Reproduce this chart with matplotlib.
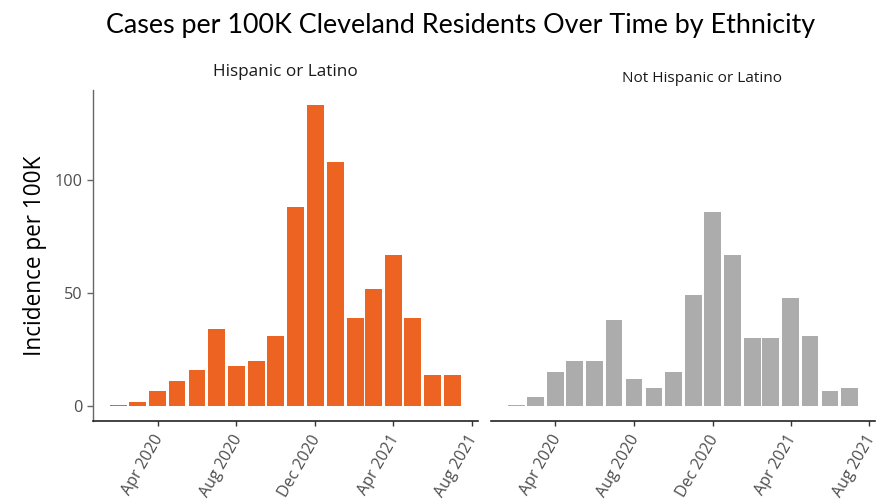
import matplotlib
matplotlib.use("Agg")
import matplotlib.pyplot as plt
import matplotlib.dates as mdates
import matplotlib.transforms as mtransforms
import datetime as dt

months = ["2020-02", "2020-03", "2020-04", "2020-05", "2020-06", "2020-07",
          "2020-08", "2020-09", "2020-10", "2020-11", "2020-12", "2021-01",
          "2021-02", "2021-03", "2021-04", "2021-05", "2021-06", "2021-07"]
hispanic = [0.3, 1.8, 6.6, 11.0, 15.9, 34.0, 17.7, 19.9, 30.9, 87.9, 133.0, 107.8,
            38.9, 51.7, 66.7, 38.9, 13.7, 13.7]
not_hispanic = [0.3, 4.0, 15.0, 19.9, 19.9, 38.0, 11.9, 8.0, 15.0, 49.0, 85.7, 66.7,
                30.0, 30.0, 47.7, 30.9, 6.6, 8.0]
panel_titles = ["Hispanic or Latino", "Not Hispanic or Latino"]
tick_dates = ["2020-04", "2020-08", "2020-12", "2021-04", "2021-08"]
tick_labels = ["Apr 2020", "Aug 2020", "Dec 2020", "Apr 2021", "Aug 2021"]
yticks = [0, 50, 100]

def to_date(s):
    y, m = s.split("-")
    return dt.datetime(int(y), int(m), 1)

x = mdates.date2num([to_date(m) for m in months])
xt = mdates.date2num([to_date(m) for m in tick_dates])

W, H = 879, 501
fig = plt.figure(figsize=(W / 100, H / 100), dpi=100)

def ax_rect(x0, x1, ytop, ybot):
    return [x0 / W, 1 - ybot / H, (x1 - x0) / W, (ybot - ytop) / H]

ax1 = fig.add_axes(ax_rect(93, 478, 90, 421))
ax2 = fig.add_axes(ax_rect(491, 875, 90, 421))

xlim = (mdates.date2num(dt.datetime(2019, 12, 23)), mdates.date2num(dt.datetime(2021, 8, 10)))
colors = ["#EC6322", "#ABACAB"]
tick_font = "Open Sans"

for ax, vals, col in [(ax1, hispanic, colors[0]), (ax2, not_hispanic, colors[1])]:
    ax.bar(x, vals, width=26, color=col, align="center")
    ax.set_xlim(*xlim)
    ax.set_ylim(-6.6, 139.6)
    ax.set_xticks(xt)
    ax.set_xticklabels(tick_labels, rotation=60, ha="right", va="center",
                       rotation_mode="anchor", fontsize=11.5, color="#4d4d4d",
                       family=tick_font)
    ax.tick_params(axis="x", length=3.5, width=1, color="#333333", pad=7.5)
    offset = mtransforms.ScaledTranslation(2 / 100, 0, fig.dpi_scale_trans)
    for lab in ax.get_xticklabels():
        lab.set_transform(lab.get_transform() + offset)
    for s in ["top", "right"]:
        ax.spines[s].set_visible(False)
    ax.spines["bottom"].set_color("#222222")
    ax.spines["bottom"].set_linewidth(1.2)

ax1.set_yticks(yticks)
ax1.set_yticklabels([str(v) for v in yticks], fontsize=11.7, color="#4d4d4d", family=tick_font)
ax1.tick_params(axis="y", length=4.5, width=1, color="#666666", pad=3.3)
ax1.spines["left"].set_color("#666666")
ax1.spines["left"].set_linewidth(1.0)
ax2.spines["left"].set_visible(False)
ax2.set_yticks([])

ax1.set_ylabel("Incidence per 100K", fontsize=16.3, family=tick_font, color="black", labelpad=5)

fig.text(285.5 / W, 1 - 72 / H, panel_titles[0], ha="center", va="center",
         fontsize=12.3, family=tick_font, color="#1a1a1a")
fig.text(702 / W, 1 - 79 / H, panel_titles[1], ha="center", va="center",
         fontsize=11.1, family=tick_font, color="#1a1a1a")
fig.text(461 / W, 1 - 25 / H, "Cases per 100K Cleveland Residents Over Time by Ethnicity",
         ha="center", va="center", fontsize=19.4, family="Lato", color="black")

fig.savefig("out.png", dpi=100)
